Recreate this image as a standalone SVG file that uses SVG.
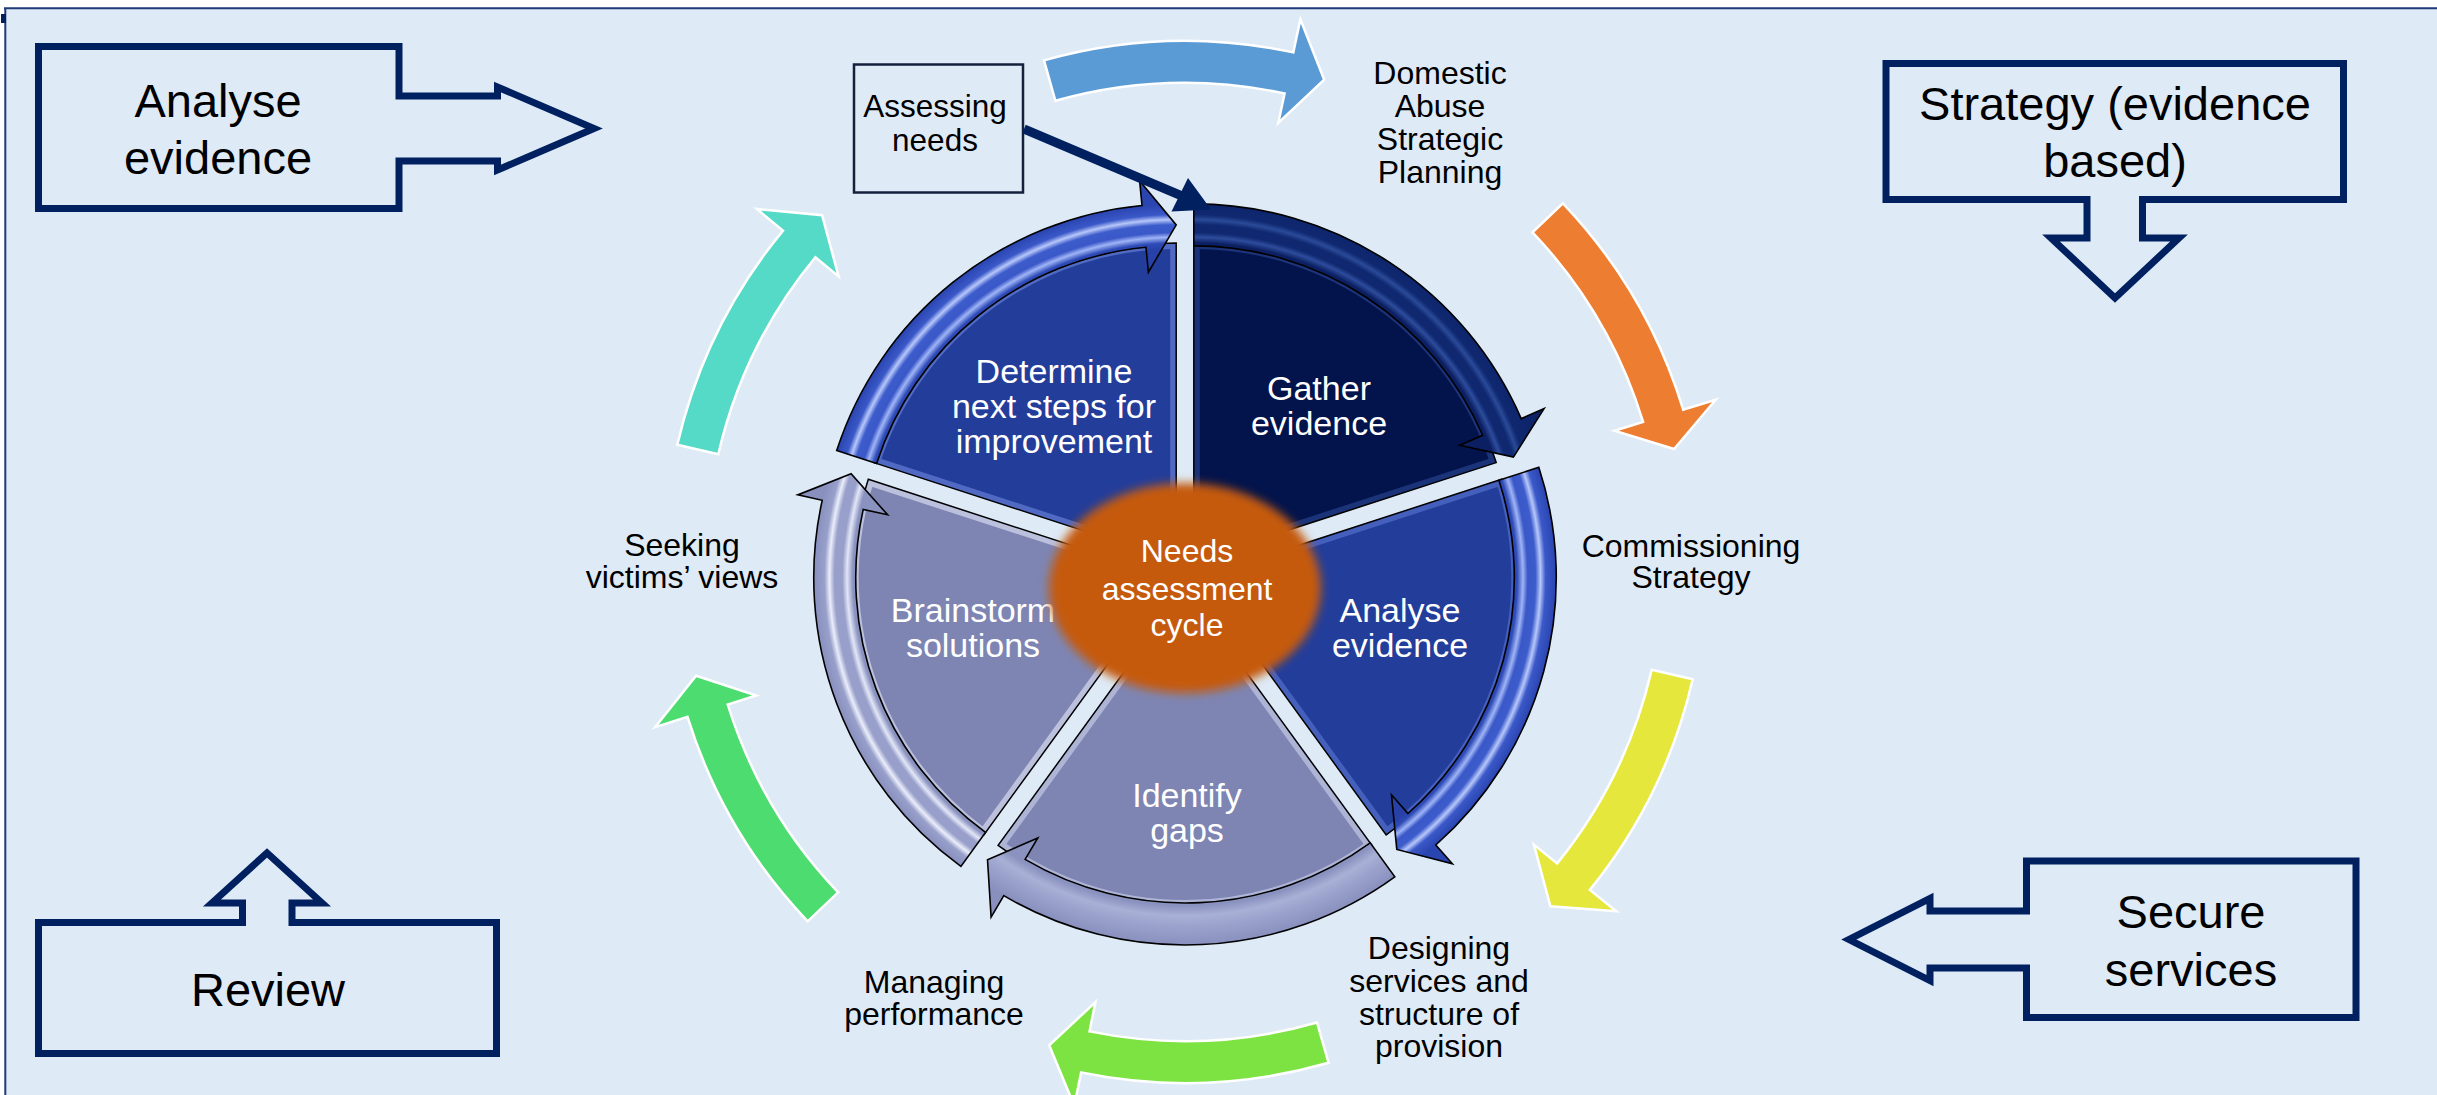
<svg xmlns="http://www.w3.org/2000/svg" width="2437" height="1095" viewBox="0 0 2437 1095">
<style>
  .lbl { font-family: "Liberation Sans", Arial, sans-serif; fill: #000; text-anchor: middle; }
  .big { font-size: 47px; }
  .mid { font-size: 32px; }
  .seg { font-family: "Liberation Sans", Arial, sans-serif; fill: #fff; text-anchor: middle; font-size: 34px; }
  .hub { font-family: "Liberation Sans", Arial, sans-serif; fill: #fff; text-anchor: middle; font-size: 32px; }
  .callout { fill: none; stroke: #002060; stroke-width: 7; stroke-linejoin: miter; }
  .ring { stroke: #fff; stroke-width: 2.5; stroke-linejoin: miter; }
  .band { stroke: #000; stroke-width: 1.6; stroke-linejoin: miter; }
  .edge { fill: none; stroke: #000; stroke-width: 1.5; }
  .glow { fill: none; stroke-width: 12; }
</style>
<defs>
  <!-- glossy band stripes, radii measured from each segment centre (r = 390) -->
  <radialGradient id="blueStops">
    <stop offset="0" stop-color="#2741A8"/>
    <stop offset="0.80" stop-color="#2741A8"/>
    <stop offset="0.815" stop-color="#2E4BB8"/>
    <stop offset="0.83" stop-color="#9FB4F6"/>
    <stop offset="0.842" stop-color="#3A58C8"/>
    <stop offset="0.862" stop-color="#3D5CCC"/>
    <stop offset="0.875" stop-color="#B7C7FA"/>
    <stop offset="0.888" stop-color="#3A58C8"/>
    <stop offset="0.915" stop-color="#2A45B0"/>
    <stop offset="1" stop-color="#2A45B0"/>
  </radialGradient>
  <radialGradient id="greyStops">
    <stop offset="0" stop-color="#8A92BF"/>
    <stop offset="0.815" stop-color="#8A92BF"/>
    <stop offset="0.83" stop-color="#E2E6F7"/>
    <stop offset="0.842" stop-color="#979FCA"/>
    <stop offset="0.862" stop-color="#979FCA"/>
    <stop offset="0.875" stop-color="#EAEDFA"/>
    <stop offset="0.888" stop-color="#979FCA"/>
    <stop offset="0.915" stop-color="#8990BE"/>
    <stop offset="1" stop-color="#8990BE"/>
  </radialGradient>
  <radialGradient id="greySoftStops">
    <stop offset="0" stop-color="#8A92BF"/>
    <stop offset="0.815" stop-color="#8A92BF"/>
    <stop offset="0.84" stop-color="#A9B0D6"/>
    <stop offset="0.87" stop-color="#9AA2CC"/>
    <stop offset="0.915" stop-color="#8990BE"/>
    <stop offset="1" stop-color="#8990BE"/>
  </radialGradient>
  <radialGradient id="navyStops">
    <stop offset="0" stop-color="#0A1E60"/>
    <stop offset="0.815" stop-color="#0B1F62"/>
    <stop offset="0.83" stop-color="#2D4C9C"/>
    <stop offset="0.842" stop-color="#0F2870"/>
    <stop offset="0.862" stop-color="#0F2870"/>
    <stop offset="0.875" stop-color="#2A4A98"/>
    <stop offset="0.888" stop-color="#0F2870"/>
    <stop offset="1" stop-color="#0B1F62"/>
  </radialGradient>
  <radialGradient id="gradG" href="#navyStops" gradientUnits="userSpaceOnUse" cx="1193.8" cy="560.9" r="390"/>
  <radialGradient id="gradA" href="#blueStops" gradientUnits="userSpaceOnUse" cx="1199.3" cy="577.6" r="390"/>
  <radialGradient id="gradI" href="#greySoftStops" gradientUnits="userSpaceOnUse" cx="1185" cy="588" r="390"/>
  <radialGradient id="gradB" href="#greyStops" gradientUnits="userSpaceOnUse" cx="1170.7" cy="577.6" r="390"/>
  <radialGradient id="gradD" href="#blueStops" gradientUnits="userSpaceOnUse" cx="1176.2" cy="560.9" r="390"/>

  <filter id="soft" x="-20%" y="-20%" width="140%" height="140%">
    <feGaussianBlur stdDeviation="5"/>
  </filter>

  <!-- pie wedges (each pushed 15px out along its bisector) -->
  <path id="wG" d="M1193.8,560.9 L1193.8,242.9 A318,318 0 0 1 1496.2,462.6 Z"/>
  <path id="wA" d="M1199.3,577.6 L1501.7,479.3 A318,318 0 0 1 1386.2,834.9 Z"/>
  <path id="wI" d="M1185,588 L1371.9,845.3 A318,318 0 0 1 998.1,845.3 Z"/>
  <path id="wB" d="M1170.7,577.6 L983.8,834.9 A318,318 0 0 1 868.3,479.3 Z"/>
  <path id="wD" d="M1176.2,560.9 L873.8,462.6 A318,318 0 0 1 1176.2,242.9 Z"/>
  <clipPath id="cG"><use href="#wG"/></clipPath>
  <clipPath id="cA"><use href="#wA"/></clipPath>
  <clipPath id="cI"><use href="#wI"/></clipPath>
  <clipPath id="cB"><use href="#wB"/></clipPath>
  <clipPath id="cD"><use href="#wD"/></clipPath>
</defs>

<!-- slide background and frame -->
<rect x="0" y="0" width="2437" height="1095" fill="#fff"/>
<rect x="5" y="8" width="2432" height="1087" fill="#DEEAF6"/>
<line x1="4" y1="8.3" x2="2437" y2="8.3" stroke="#1F3A78" stroke-width="2"/>
<line x1="5.3" y1="8" x2="5.3" y2="1095" stroke="#1F3A78" stroke-width="2"/>
<rect x="1" y="14" width="5" height="9" fill="#002060"/>

<!-- corner callouts -->
<g id="callout-analyse">
  <path class="callout" d="M38.5,46.5 H399 V96 H497.5 V87 L594,128.5 L497.5,170 V161 H399 V208.5 H38.5 Z"/>
  <text class="lbl big"><tspan x="218" y="117">Analyse</tspan><tspan x="218" y="174">evidence</tspan></text>
</g>
<g id="callout-strategy">
  <path class="callout" d="M1886,63.5 H2343.5 V199.5 H2142.5 V238 H2179 L2115,298 L2051,238 H2087 V199.5 H1886 Z"/>
  <text class="lbl big"><tspan x="2115" y="120">Strategy (evidence</tspan><tspan x="2115" y="177">based)</tspan></text>
</g>
<g id="callout-review">
  <path class="callout" d="M38.5,922.5 H242.5 V903 H212 L267,853 L322,903 H292 V922.5 H496.5 V1053.5 H38.5 Z"/>
  <text class="lbl big" x="268" y="1006">Review</text>
</g>
<g id="callout-secure">
  <path class="callout" d="M2356,861 H2026.5 V911 H1930 V898.5 L1849,939.5 L1930,980.5 V968 H2026.5 V1017.5 H2356 Z"/>
  <text class="lbl big"><tspan x="2191" y="928">Secure</tspan><tspan x="2191" y="986">services</tspan></text>
</g>

<!-- stage labels round the outer ring -->
<g id="assessing-needs">
  <rect x="854" y="64.5" width="169" height="128" fill="none" stroke="#14213D" stroke-width="2.5"/>
  <text class="lbl" font-size="31.5"><tspan x="935" y="117">Assessing</tspan><tspan x="935" y="151">needs</tspan></text>
</g>
<g id="label-planning">
  <text class="lbl mid"><tspan x="1440" y="84">Domestic</tspan><tspan x="1440" y="117">Abuse</tspan><tspan x="1440" y="150">Strategic</tspan><tspan x="1440" y="183">Planning</tspan></text>
</g>
<g id="label-commissioning">
  <text class="lbl mid"><tspan x="1691" y="557">Commissioning</tspan><tspan x="1691" y="588">Strategy</tspan></text>
</g>
<g id="label-designing">
  <text class="lbl mid"><tspan x="1439" y="959">Designing</tspan><tspan x="1439" y="992">services and</tspan><tspan x="1439" y="1025">structure of</tspan><tspan x="1439" y="1057">provision</tspan></text>
</g>
<g id="label-managing">
  <text class="lbl mid"><tspan x="934" y="993">Managing</tspan><tspan x="934" y="1025">performance</tspan></text>
</g>
<g id="label-seeking">
  <text class="lbl mid"><tspan x="682" y="556">Seeking</tspan><tspan x="682" y="588">victims’ views</tspan></text>
</g>

<!-- central segmented cycle -->
<g id="cycle">
  <g id="seg-gather">
    <use href="#wG" fill="#03134B"/>
    <use href="#wG" class="glow" stroke="#2F4F9E" stroke-opacity="0.55" clip-path="url(#cG)"/>
    <use href="#wG" class="edge"/>
    <path class="band" fill="url(#gradG)" d="M1193.8,203.9 A357,357 0 0 1 1521.2,418.6 L1544.1,408.6 L1513.4,457.1 L1459.8,445.3 L1482.7,435.3 A315,315 0 0 0 1193.8,245.9 Z"/>
    <text class="seg"><tspan x="1319" y="400">Gather</tspan><tspan x="1319" y="435">evidence</tspan></text>
  </g>
  <g id="seg-analyse">
    <use href="#wA" fill="#233D9A"/>
    <use href="#wA" class="glow" stroke="#6F8AE8" stroke-opacity="0.45" clip-path="url(#cA)"/>
    <use href="#wA" class="edge"/>
    <path class="band" fill="url(#gradA)" d="M1538.8,467.3 A357,357 0 0 1 1435.8,845.0 L1452.4,863.7 L1396.8,849.4 L1391.5,794.8 L1408.0,813.5 A315,315 0 0 0 1498.9,480.3 Z"/>
    <text class="seg"><tspan x="1400" y="622">Analyse</tspan><tspan x="1400" y="657">evidence</tspan></text>
  </g>
  <g id="seg-identify">
    <use href="#wI" fill="#7E85B3"/>
    <use href="#wI" class="glow" stroke="#D6DAF2" stroke-opacity="0.55" clip-path="url(#cI)"/>
    <use href="#wI" class="edge"/>
    <path class="band" fill="url(#gradI)" d="M1394.8,876.8 A357,357 0 0 1 1003.8,895.6 L991.1,917.1 L987.5,859.8 L1037.8,837.9 L1025.1,859.4 A315,315 0 0 0 1370.2,842.8 Z"/>
    <text class="seg"><tspan x="1187" y="807">Identify</tspan><tspan x="1187" y="842">gaps</tspan></text>
  </g>
  <g id="seg-brainstorm">
    <use href="#wB" fill="#7E85B3"/>
    <use href="#wB" class="glow" stroke="#E4E7F8" stroke-opacity="0.6" clip-path="url(#cB)"/>
    <use href="#wB" class="edge"/>
    <path class="band" fill="url(#gradB)" d="M960.9,866.4 A357,357 0 0 1 822.2,500.3 L797.8,494.9 L851.1,473.8 L887.6,514.8 L863.2,509.4 A315,315 0 0 0 985.5,832.4 Z"/>
    <text class="seg"><tspan x="973" y="622">Brainstorm</tspan><tspan x="973" y="657">solutions</tspan></text>
  </g>
  <g id="seg-determine">
    <use href="#wD" fill="#233D9A"/>
    <use href="#wD" class="glow" stroke="#7E97EE" stroke-opacity="0.5" clip-path="url(#cD)"/>
    <use href="#wD" class="edge"/>
    <path class="band" fill="url(#gradD)" d="M836.7,450.6 A357,357 0 0 1 1142.0,205.5 L1139.6,180.7 L1176.2,224.9 L1148.4,272.2 L1146.0,247.3 A315,315 0 0 0 876.6,463.6 Z"/>
    <text class="seg"><tspan x="1054" y="383">Determine</tspan><tspan x="1054" y="418">next steps for</tspan><tspan x="1054" y="453">improvement</tspan></text>
  </g>

  <g id="hub">
    <ellipse cx="1185" cy="588" rx="136" ry="105" fill="#C55A11" filter="url(#soft)"/>
    <text class="hub"><tspan x="1187" y="562">Needs</tspan><tspan x="1187" y="600">assessment</tspan><tspan x="1187" y="636">cycle</tspan></text>
  </g>
</g>

<!-- curved ring arrows between the stage labels, plus the pointer into the cycle -->
<g id="connectors">
  <path class="ring" fill="#5B9BD5" d="M1044.0,60.4 A521,521 0 0 1 1293.3,52.4 L1300.4,19.2 L1324.2,79.7 L1278.3,122.8 L1284.6,93.5 A479,479 0 0 0 1055.4,100.8 Z"/>
  <path class="ring" fill="#ED7D31" d="M1562.9,203.3 A521,521 0 0 1 1683.2,409.7 L1715.7,399.7 L1674.1,449.0 L1614.4,430.7 L1643.1,421.9 A479,479 0 0 0 1532.5,232.3 Z"/>
  <path class="ring" fill="#E5E73C" d="M1692.7,679.2 A521,521 0 0 1 1589.9,889.9 L1616.3,911.3 L1550.4,906.3 L1533.9,844.6 L1557.2,863.4 A479,479 0 0 0 1651.7,669.8 Z"/>
  <path class="ring" fill="#7DE343" d="M1328.6,1062.8 A521,521 0 0 1 1081.1,1072.5 L1074.3,1105.8 L1049.2,1045.3 L1095.5,1002.0 L1089.5,1031.4 A479,479 0 0 0 1317.0,1022.5 Z"/>
  <path class="ring" fill="#4CDC6F" d="M807.7,921.3 A521,521 0 0 1 687.5,716.9 L655.1,727.1 L696.1,675.8 L756.3,695.5 L727.7,704.5 A479,479 0 0 0 838.1,892.3 Z"/>
  <path class="ring" fill="#55DAC7" d="M677.3,444.8 A521,521 0 0 1 783.0,230.6 L756.8,209.0 L822.1,215.2 L838.6,276.4 L815.4,257.3 A479,479 0 0 0 718.3,454.2 Z"/>

  <line x1="1024" y1="129" x2="1182" y2="196" stroke="#002060" stroke-width="9"/>
  <polygon points="1211,209.5 1171.5,211.5 1188,178" fill="#002060"/>
</g>
</svg>
